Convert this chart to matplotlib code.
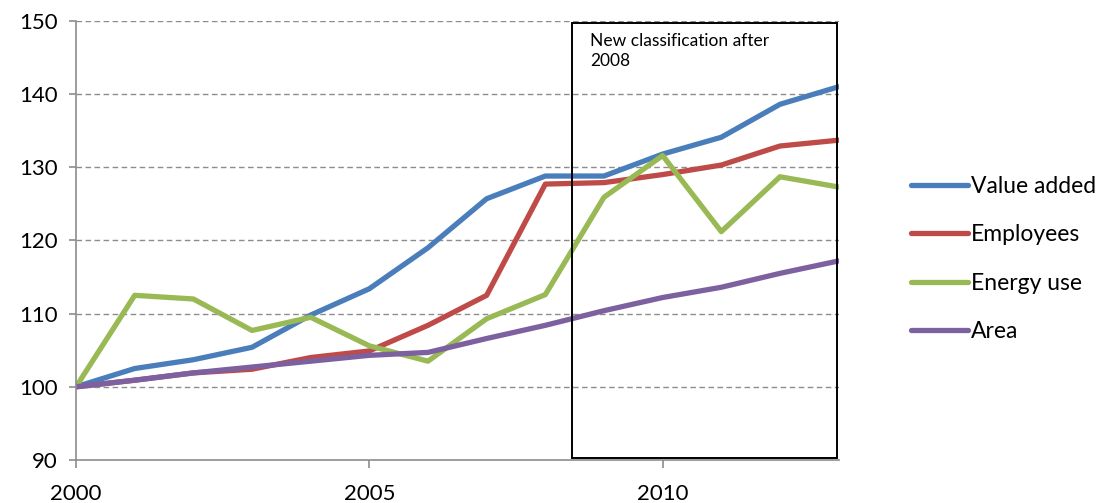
import matplotlib
matplotlib.use("Agg")
import matplotlib.pyplot as plt
from matplotlib.patches import Rectangle

plt.rcParams['font.family'] = ['Lato', 'DejaVu Sans']

years = list(range(2000, 2014))
value_added = [100, 102.5, 103.7, 105.4, 109.8, 113.4, 119.0, 125.7, 128.8, 128.8, 131.8, 134.1, 138.6, 141.0]
employees   = [100, 100.9, 101.9, 102.4, 104.0, 104.9, 108.4, 112.5, 127.7, 127.9, 129.0, 130.3, 132.9, 133.7]
energy_use  = [100, 112.5, 112.0, 107.7, 109.5, 105.6, 103.5, 109.3, 112.6, 125.9, 131.6, 121.2, 128.7, 127.3]
area        = [100, 100.9, 101.9, 102.7, 103.5, 104.3, 104.7, 106.6, 108.4, 110.4, 112.2, 113.6, 115.5, 117.2]

series_names = ["Value added", "Employees", "Energy use", "Area"]
series_colors = ["#4A7EBB", "#BE4B48", "#98B954", "#7D60A0"]
yticks = [90, 100, 110, 120, 130, 140, 150]
xticks = [2000, 2005, 2010]
box_note = "New classification after\n2008"

fig = plt.figure(figsize=(11.02, 5.03), dpi=100)
ax = fig.add_axes([0.069, 0.0855, 0.692, 0.873])

for name, vals, col in zip(series_names, [value_added, employees, energy_use, area], series_colors):
    ax.plot(years, vals, color=col, lw=3.8, label=name, solid_capstyle='round', solid_joinstyle='round')

ax.set_xlim(2000, 2013)
ax.set_ylim(90, 150)
ax.set_yticks(yticks)
ax.set_xticks(xticks)
for y in yticks[1:]:
    ax.axhline(y, color='#8C8C8C', lw=1.0, ls=(0, (4, 2.5)), zorder=0)

for s in ['top', 'right']:
    ax.spines[s].set_visible(False)
for s in ['left', 'bottom']:
    ax.spines[s].set_color('#8C8C8C')
    ax.spines[s].set_linewidth(1.2)
ax.tick_params(axis='y', colors='#8C8C8C', labelcolor='black', labelsize=16, length=5, width=1.2, direction='out', pad=8)
ax.tick_params(axis='x', colors='#8C8C8C', labelcolor='black', labelsize=16, length=6, width=1.2, direction='out', pad=11)

rect = Rectangle((2008.45, 90.25), 2013 - 2008.45 - 0.02, 149.75 - 90.25,
                 fill=False, edgecolor='black', lw=1.4, zorder=5)
ax.add_patch(rect)
ax.text(2008.77, 148.4, box_note, fontsize=12.5, va='top', ha='left', linespacing=1.35)

handles, labels = ax.get_legend_handles_labels()
fig.legend(handles, labels, loc='center left', bbox_to_anchor=(0.808, 0.485),
           frameon=False, fontsize=16.5, handlelength=2.5, handletextpad=0.1,
           labelspacing=1.2)

fig.savefig("out.png", dpi=100)
